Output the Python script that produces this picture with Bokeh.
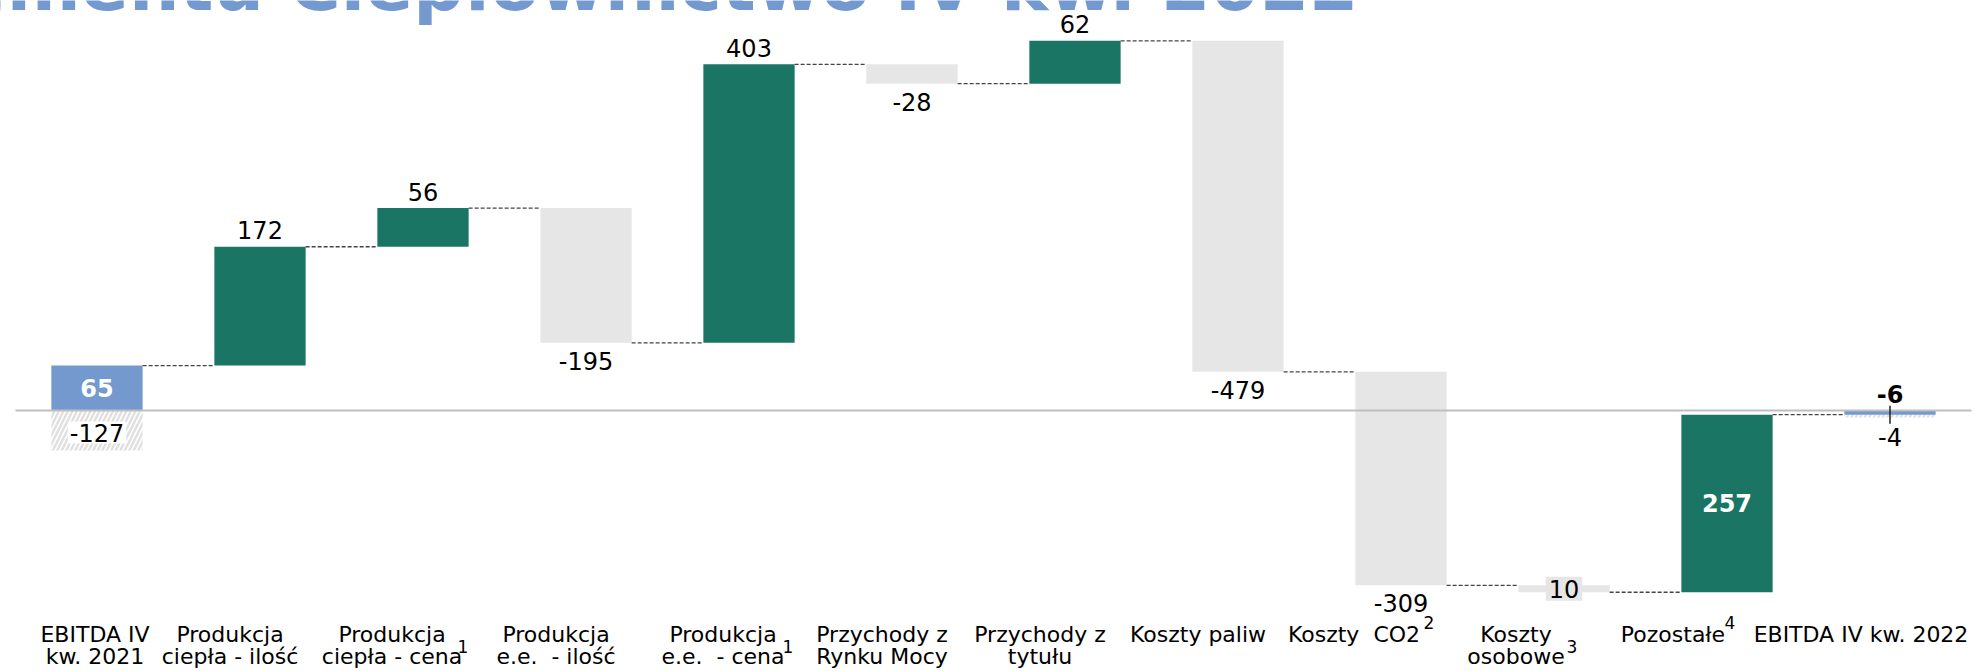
from bokeh.plotting import figure
from bokeh.models import Range1d
from bokeh.core.properties import value
from bokeh.embed import file_html
from bokeh.resources import INLINE
import math

# ---------------- data ----------------
title_text = "EBITDA segmentu Ciepłownictwo IV kw. 2022"
categories = [
    "EBITDA IV\nkw. 2021",
    "Produkcja\nciepła - ilość",
    "Produkcja\nciepła - cena",
    "Produkcja\ne.e.\u00a0 - ilość",
    "Produkcja\ne.e.\u00a0 - cena",
    "Przychody z\nRynku Mocy",
    "Przychody z\ntytułu",
    "Koszty paliw",
    "Koszty\u00a0 CO2",
    "Koszty\nosobowe",
    "Pozostałe",
    "EBITDA IV kw. 2022",
]
footnotes = ["", "", "1", "", "1", "", "", "", "2", "3", "4", ""]
start_value = 65
deltas = [172, 56, -195, 403, -28, 62, -479, -309, -10, 257]
end_value = -6
value_labels = ["65", "172", "56", "-195", "403", "-28", "62", "-479", "-309", "10", "257", "-6"]
adjustment_labels = ["-127", "-4"]      # hatched parts of first / last bar
adjustment_depth = [58, 4]              # visual depth of the hatched parts

# ---------------- style ----------------
W, H = 1974, 671
LEFT_PX = 15
CAT_PX = 163
ZERO_PX = 410
PX_PER_UNIT = 0.691
BAR_W = 0.56
BLUE = "#7399CF"
GREEN = "#1B7565"
GRAY = "#E6E6E6"
FONT = value("DejaVu Sans")
VAL_FS = "24px"
placement = ["inside", "above", "above", "below", "above", "below", "above",
             "below", "below", "center", "inside", "above"]
bold_idx = {0, 10, 11}
label_dx = [-2, -30, -31, -30, -26, -30, -35, -40, -47, -48, -54, -29]
sup_dx = [0, 0, 40, 0, 39, 0, 0, 0, 28, 8, 3, 0]
sup_dy = {"1": 236, "2": 212, "3": 236, "4": 212}

# ---------------- derived geometry ----------------
n = len(categories)
xc = [i + 0.5 for i in range(n)]
bottoms, tops, colors = [min(0, start_value)], [max(0, start_value)], [BLUE]
level = start_value
after = [level]
for d in deltas:
    bottoms.append(min(level, level + d))
    tops.append(max(level, level + d))
    colors.append(GREEN if d > 0 else GRAY)
    level += d
    after.append(level)
bottoms.append(min(0, end_value))
tops.append(max(0, end_value))
colors.append(BLUE)

p = figure(
    width=W, height=H,
    x_range=Range1d(-LEFT_PX / CAT_PX, (W - LEFT_PX) / CAT_PX),
    y_range=Range1d((ZERO_PX - H) / PX_PER_UNIT, ZERO_PX / PX_PER_UNIT),
    output_backend="svg", toolbar_location=None, tools="",
    x_axis_type=None, y_axis_type=None, min_border=0,
    outline_line_color=None, background_fill_color="white", border_fill_color="white",
)
p.grid.visible = False

# hatched adjustment parts
hx = [xc[0], xc[-1]]
htop = [0, bottoms[-1]]
hbot = [0 - adjustment_depth[0], bottoms[-1] - adjustment_depth[1]]
p.quad(left=[x - BAR_W / 2 for x in hx], right=[x + BAR_W / 2 for x in hx],
       top=htop, bottom=hbot, fill_color="white", line_color=None,
       hatch_pattern="/", hatch_color="#E0E0E0", hatch_weight=2.5, hatch_scale=9)

# bars
p.quad(left=[x - BAR_W / 2 for x in xc], right=[x + BAR_W / 2 for x in xc],
       top=tops, bottom=bottoms, fill_color=colors, line_color=None)

# connectors
p.segment(x0=[xc[i] + BAR_W / 2 for i in range(n - 1)],
          x1=[xc[i + 1] - BAR_W / 2 for i in range(n - 1)],
          y0=after, y1=after, line_color="#444444", line_width=1.3, line_dash="4 2")

# zero line
p.segment(x0=[0], x1=[n], y0=[0], y1=[0], line_color="#BFBFBF", line_width=2)

# marker on final bar
p.scatter(x=[xc[-1]], y=[end_value], marker="dash", angle=math.pi / 2, size=18,
          line_color="#222222", line_width=1.5)


def add_text(xs, ys, texts, **kw):
    p.text(x=xs, y=ys, text=texts, text_font=FONT, text_align="center",
           text_baseline="middle", **kw)


# value labels
for style in ["inside", "above", "below", "center"]:
    for bold in [False, True]:
        idx = [i for i in range(n) if placement[i] == style and ((i in bold_idx) == bold)]
        if not idx:
            continue
        fs = "bold" if bold else "normal"
        txt = [value_labels[i] for i in idx]
        xs = [xc[i] for i in idx]
        if style == "inside":
            add_text(xs, [(bottoms[i] + tops[i]) / 2 for i in idx], txt,
                     text_color="white", text_font_style=fs, text_font_size=VAL_FS)
        elif style == "above":
            add_text(xs, [tops[i] for i in idx], txt, y_offset=-16.5,
                     text_color="black", text_font_style=fs, text_font_size=VAL_FS)
        elif style == "below":
            add_text(xs, [bottoms[i] for i in idx], txt, y_offset=18,
                     text_color="black", text_font_style=fs, text_font_size=VAL_FS)
        else:
            add_text(xs, [(bottoms[i] + tops[i]) / 2 for i in idx], txt,
                     text_color="black", text_font_style=fs, text_font_size=VAL_FS,
                     background_fill_color=GRAY, padding=3)

# adjustment labels
add_text([hx[0]], [htop[0]], [adjustment_labels[0]], y_offset=22,
         text_color="black", text_font_size=VAL_FS,
         background_fill_color="white", padding=2)
add_text([hx[1]], [hbot[1]], [adjustment_labels[1]], y_offset=20,
         text_color="black", text_font_size=VAL_FS)

# category labels
l1x, l1t, l1dx, l2x, l2t, l2dx = [], [], [], [], [], []
for i, c in enumerate(categories):
    parts = c.split("\n")
    l1x.append(xc[i]); l1t.append(parts[0]); l1dx.append(label_dx[i])
    if len(parts) > 1:
        l2x.append(xc[i]); l2t.append(parts[1]); l2dx.append(label_dx[i])
add_text(l1x, [0] * len(l1x), l1t, x_offset=l1dx, y_offset=223.5,
         text_color="black", text_font_size="22px")
add_text(l2x, [0] * len(l2x), l2t, x_offset=l2dx, y_offset=245.5,
         text_color="black", text_font_size="22px")

sidx = [i for i in range(n) if footnotes[i]]
add_text([xc[i] for i in sidx], [0] * len(sidx), [footnotes[i] for i in sidx],
         x_offset=[sup_dx[i] for i in sidx], y_offset=[sup_dy[footnotes[i]] for i in sidx],
         text_color="black", text_font_size="17px")

# title (partially cut off at the top, as in the reference)
p.text(x=[(1358 - LEFT_PX) / CAT_PX], y=[0], text=[title_text], text_font=FONT,
       text_font_size="71px", text_font_style="bold", text_color=BLUE, text_align="right",
       text_baseline="middle", y_offset=-(ZERO_PX + 15))

open("out.html", "w").write(file_html(p, INLINE))
